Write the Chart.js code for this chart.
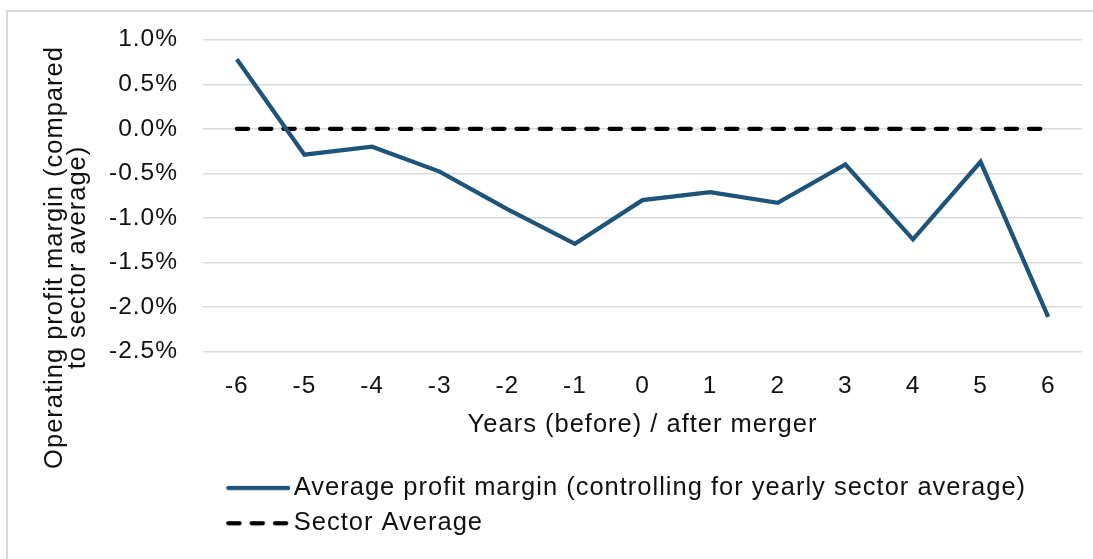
<!DOCTYPE html>
<html>
<head>
<meta charset="utf-8">
<script src="https://cdn.jsdelivr.net/npm/chart.js@4/dist/chart.umd.min.js"></script>
<style>
  html, body { margin: 0; padding: 0; background: #fff; overflow: hidden; }
  #frame { position: absolute; left: 6px; top: 10px; width: 2000px; height: 2000px; border: 2px solid #d9d9d9; box-sizing: border-box; }
  #c { position: absolute; left: 0; top: 0; }
</style>
</head>
<body>
<div id="frame"></div>
<canvas id="c" width="1093" height="559"></canvas>
<script>
// ---- data ----
const years = ['-6', '-5', '-4', '-3', '-2', '-1', '0', '1', '2', '3', '4', '5', '6'];
const avgMargin = [0.78, -0.29, -0.20, -0.48, -0.90, -1.29, -0.80, -0.71, -0.83, -0.40, -1.24, -0.37, -2.11];
const sectorAvg = [0, 0, 0, 0, 0, 0, 0, 0, 0, 0, 0, 0, 0];
const seriesNames = ['Average profit margin (controlling for yearly sector average)', 'Sector Average'];
const yTitleLines = ['Operating profit margin (compared', 'to sector average)'];
const xTitle = 'Years (before) / after merger';

// ---- styles ----
const FONT = '"Liberation Sans", Arial, sans-serif';
const TRACK = '1px';
const BLUE = '#1e5479';
const LW = 4.25;
const DASH = [11.3, 12];

function sample(dashed, color) {
  const cv = document.createElement('canvas');
  cv.width = 64; cv.height = 8;
  const g = cv.getContext('2d');
  g.strokeStyle = color; g.lineWidth = LW; g.lineCap = 'round';
  if (dashed) g.setLineDash(DASH);
  g.beginPath(); g.moveTo(2.2, 4); g.lineTo(62, 4); g.stroke();
  return cv;
}
const samples = [sample(false, BLUE), sample(true, '#000')];

const tracking = {
  id: 'tracking',
  beforeUpdate(chart) { chart.ctx.letterSpacing = TRACK; },
  beforeDraw(chart) { chart.ctx.letterSpacing = TRACK; }
};

const yTitlePlugin = {
  id: 'yTitle',
  afterDraw(chart) {
    const ctx = chart.ctx;
    ctx.save();
    ctx.font = '25.5px ' + FONT;
    ctx.letterSpacing = TRACK;
    ctx.fillStyle = '#111';
    ctx.textAlign = 'center';
    ctx.textBaseline = 'alphabetic';
    ctx.translate(62, 257.5);
    ctx.rotate(-Math.PI / 2);
    ctx.fillText(yTitleLines[0], 0, 0);
    ctx.fillText(yTitleLines[1], 0, 23.3);
    ctx.restore();
  }
};

const legendPlace = {
  id: 'legendPlace',
  afterLayout(chart) {
    const lg = chart.legend;
    lg.left = 225.4; lg.width = 850; lg.right = lg.left + lg.width;
    lg.top = 465.3; lg.height = 80; lg.bottom = lg.top + lg.height;
  }
};

new Chart(document.getElementById('c'), {
  type: 'line',
  data: {
    labels: years,
    datasets: [
      { label: seriesNames[0], data: avgMargin, borderColor: BLUE, backgroundColor: BLUE, borderWidth: LW, pointRadius: 0, tension: 0, borderJoinStyle: 'miter' },
      { label: seriesNames[1], data: sectorAvg, borderColor: '#000', backgroundColor: '#000', borderWidth: LW, borderDash: DASH, borderCapStyle: 'round', pointRadius: 0, tension: 0 }
    ]
  },
  options: {
    responsive: false,
    animation: false,
    devicePixelRatio: 1,
    layout: { padding: { top: 37.3, right: 11, left: 0, bottom: 70.8 } },
    plugins: {
      tooltip: { enabled: false },
      legend: {
        display: true,
        position: 'bottom',
        align: 'start',
        labels: {
          usePointStyle: true,
          pointStyleWidth: 45.8,
          padding: 9.8,
          color: '#111',
          font: { family: FONT, size: 25.5 },
          generateLabels(chart) {
            const items = Chart.defaults.plugins.legend.labels.generateLabels(chart);
            items.forEach((it, i) => { it.pointStyle = samples[i]; it.fontColor = '#111'; });
            return items;
          }
        }
      }
    },
    scales: {
      x: {
        type: 'category',
        offset: true,
        grid: { display: false, drawTicks: false },
        border: { display: false },
        ticks: { color: '#111', font: { family: FONT, size: 24.5 }, padding: 20, maxRotation: 0 },
        title: { display: true, text: xTitle, color: '#111', font: { family: FONT, size: 25.5 }, padding: { top: 0, bottom: 3 } },
        afterFit(s) { s.height = 91.3; }
      },
      y: {
        min: -2.5,
        max: 1.0,
        grid: { color: '#d9d9d9', lineWidth: 1.5, drawTicks: false },
        border: { display: false },
        ticks: { stepSize: 0.5, color: '#111', padding: 25, font: { family: FONT, size: 24.5 }, callback: v => v.toFixed(1) + '%' },
        afterFit(s) { s.width = 203; }
      }
    }
  },
  plugins: [tracking, yTitlePlugin, legendPlace]
});
</script>
</body>
</html>
